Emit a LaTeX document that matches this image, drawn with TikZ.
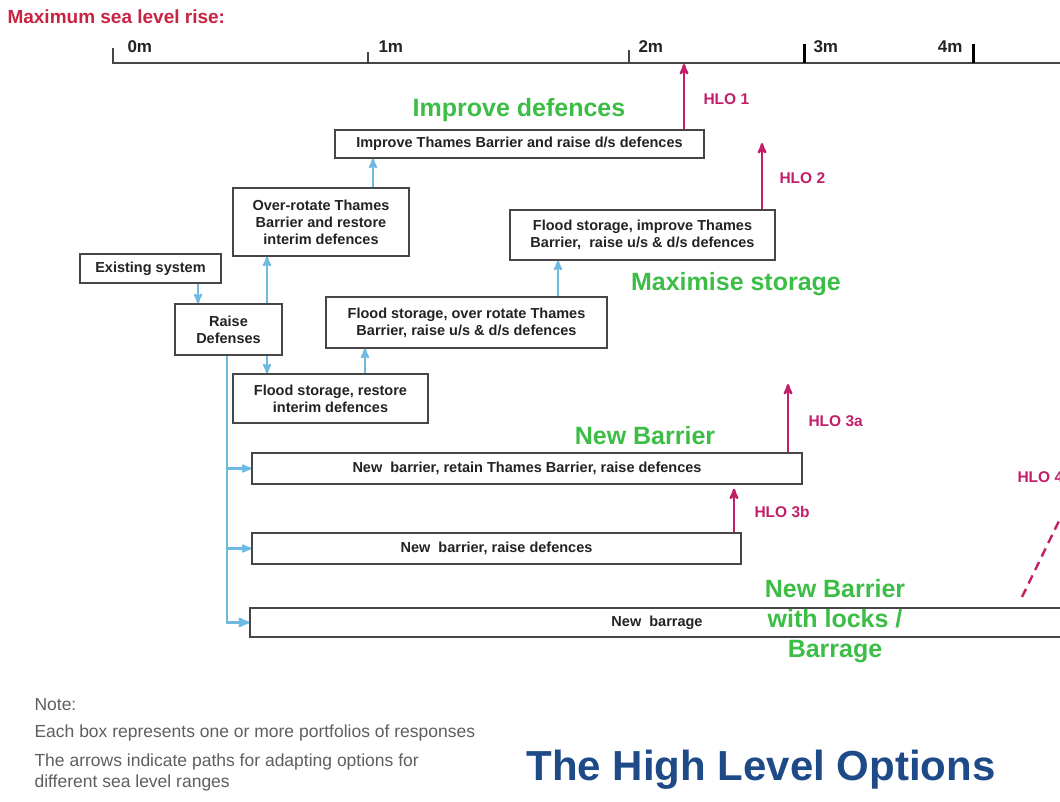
\documentclass[tikz,border=0pt]{standalone}
\usepackage{fontspec}
\setmainfont{Liberation Sans}
\usetikzlibrary{arrows}
\definecolor{boxgray}{RGB}{70,70,70}
\definecolor{textgray}{RGB}{35,35,35}
\definecolor{linkblue}{RGB}{110,185,225}
\definecolor{hlopink}{RGB}{195,30,105}
\definecolor{optgreen}{RGB}{60,190,70}
\definecolor{titleblue}{RGB}{30,75,135}
\definecolor{risered}{RGB}{200,35,65}
\definecolor{notegray}{RGB}{95,95,95}

\begin{document}
\begin{tikzpicture}[x=1pt,y=-1pt,>=stealth',
  opt box/.style={draw=boxgray,fill=white,line width=1.3pt,inner sep=0pt,align=center,
    text=textgray,font=\bfseries\fontsize{14.5}{17}\selectfont},
  link/.style={->,draw=linkblue,line width=2.2pt},
  hlo/.style={->,draw=hlopink,line width=2.4pt},
  hlo label/.style={anchor=west,text=hlopink,font=\bfseries\fontsize{15.5}{18}\selectfont},
  group label/.style={text=optgreen,align=center,font=\bfseries\fontsize{25}{30}\selectfont},
  tick label/.style={text=textgray,font=\bfseries\fontsize{17}{20}\selectfont},
  note/.style={anchor=west,text=notegray,font=\fontsize{17.5}{21}\selectfont}]
\useasboundingbox (0,0) rectangle (1060,802);
\fill[white] (0,0) rectangle (1060,802);
\clip (0,0) rectangle (1060,802);

% Sea level axis
\node[anchor=west,text=risered,font=\bfseries\fontsize{19}{22}\selectfont] (rise) at (4,17) {Maximum sea level rise:};
\draw[boxgray,line width=2.4pt] (113,48) -- (113,63) -- (1060,63);
\draw[boxgray,line width=1.4pt] (368,52) -- (368,63);
\draw[boxgray,line width=2pt] (629,50) -- (629,63);
\draw[black,line width=3pt] (804,44) -- (804,63);
\draw[black,line width=3pt] (973,44) -- (973,63);
\node[tick label,anchor=west] (m0) at (124,47) {0m};
\node[tick label,anchor=west] (m1) at (375,47) {1m};
\node[tick label,anchor=west] (m2) at (635,47) {2m};
\node[tick label,anchor=west] (m3) at (810,47) {3m};
\node[tick label,anchor=east] (m4) at (966,47) {4m};

% Option boxes
\node[opt box,minimum width=141,minimum height=29] (existing) at (150.5,268.5) {Existing system};
\node[opt box,minimum width=107,minimum height=51] (raise) at (228.5,329.5) {Raise\\Defenses};
\node[opt box,minimum width=176,minimum height=68] (overrot) at (321,222) {Over-rotate Thames\\Barrier and restore\\interim defences};
\node[opt box,minimum width=369,minimum height=28] (improve) at (519.5,144) {Improve Thames Barrier and raise d/s defences};
\node[opt box,minimum width=195,minimum height=49] (fsrestore) at (330.5,398.5) {Flood storage, restore\\interim defences};
\node[opt box,minimum width=281,minimum height=51] (fsover) at (466.5,322.5) {Flood storage, over rotate Thames\\Barrier, raise u/s \& d/s defences};
\node[opt box,minimum width=265,minimum height=50] (fsimprove) at (642.5,235) {Flood storage, improve Thames\\Barrier,~ raise u/s \& d/s defences};
\node[opt box,minimum width=550,minimum height=31] (nbretain) at (527,468.5) {New~ barrier, retain Thames Barrier, raise defences};
\node[opt box,minimum width=489,minimum height=31] (nbraise) at (496.5,548.5) {New~ barrier, raise defences};
\node[opt box,minimum width=814,minimum height=29] (barrage) at (657,622.5) {New~ barrage};

% Adaptation paths
\coordinate (trunk) at ([xshift=-1.5pt]raise.south);
\path
  ([xshift=47.5pt]existing.south) edge[link] ([xshift=-30.5pt]raise.north)
  ([xshift=38.5pt]raise.north) edge[link] ([xshift=-54pt]overrot.south)
  ([xshift=52pt]overrot.north) edge[link] ([xshift=-146.5pt]improve.south)
  ([xshift=38.5pt]raise.south) edge[link] ([xshift=-63.5pt]fsrestore.north)
  ([xshift=34.5pt]fsrestore.north) edge[link] ([xshift=-101.5pt]fsover.south)
  ([xshift=91.5pt]fsover.north) edge[link] ([xshift=-84.5pt]fsimprove.south)
  (trunk |- nbretain.west) edge[link] (nbretain.west)
  (trunk |- nbraise.west) edge[link] (nbraise.west);
\draw[link,line width=2.6pt] (trunk) |- (barrage.west);

% High level options
\coordinate (hlo1top) at (684,64);
\coordinate (hlo2top) at (762,143);
\coordinate (hlo3top) at (788,384);
\coordinate (hlo4a) at (1022,597);
\coordinate (hlo4b) at (1076,486);
\path
  ([xshift=164.5pt]improve.north) edge[hlo] (hlo1top)
  ([xshift=119.5pt]fsimprove.north) edge[hlo] (hlo2top)
  ([xshift=261pt]nbretain.north) edge[hlo] (hlo3top)
  ([xshift=237.5pt]nbraise.north) edge[hlo] ([xshift=207pt,yshift=-4pt]nbretain.south);
\draw[hlo,dashed,dash pattern=on 9pt off 6pt] (hlo4a) -- (hlo4b);
\node[hlo label] (hlo1) at (700,99) {HLO 1};
\node[hlo label] (hlo2) at (776,178) {HLO 2};
\node[hlo label] (hlo3a) at (805,421) {HLO 3a};
\node[hlo label] (hlo3b) at (751,512) {HLO 3b};
\node[hlo label] (hlo4) at (1014,477) {HLO 4};

% Groups of options
\node[group label] (gimprove) at (519,110) {Improve defences};
\node[group label] (gstorage) at (736,284) {Maximise storage};
\node[group label] (gbarrier) at (645,436) {New Barrier};
\node[group label] (glocks) at (835,621) {New Barrier\\with locks /\\Barrage};

% Notes and title
\node[note] (note) at (31,705) {Note:};
\node[note] (note1) at (31,733) {Each box represents one or more portfolios of responses};
\node[note] (note2) at (31,762) {The arrows indicate paths for adapting options for};
\node[note] (note3) at (31,783) {different sea level ranges};
\node[text=titleblue,font=\bfseries\fontsize{42}{48}\selectfont] (title) at (761,770) {The High Level Options};
\end{tikzpicture}
\end{document}
